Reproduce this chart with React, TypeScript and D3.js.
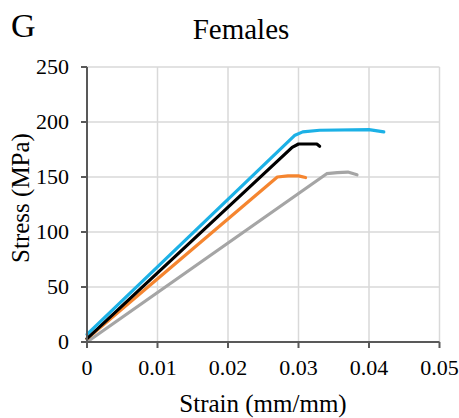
import React, { useEffect, useRef } from 'react'
import * as d3 from 'd3'

// strain (mm/mm), stress (MPa)
const blueStrain = [0, 0.0295, 0.0306, 0.033, 0.04, 0.0421]
const blueStress = [7, 188, 191, 192.5, 193, 191]
const blackStrain = [0, 0.0291, 0.03, 0.0326, 0.033]
const blackStress = [3, 177, 180, 180, 178]
const orangeStrain = [0, 0.027, 0.0285, 0.03, 0.031]
const orangeStress = [3, 150, 151, 151, 149.5]
const grayStrain = [0, 0.034, 0.0355, 0.037, 0.0383]
const grayStress = [0, 153, 154, 154.5, 152]

const xTicks = [0, 0.01, 0.02, 0.03, 0.04, 0.05]
const yTicks = [0, 50, 100, 150, 200, 250]

const series = [
  { color: '#A5A5A5', xs: grayStrain, ys: grayStress },
  { color: '#F5852F', xs: orangeStrain, ys: orangeStress },
  { color: '#000000', xs: blackStrain, ys: blackStress },
  { color: '#1CB1E6', xs: blueStrain, ys: blueStress }
]

export default function App() {
  const ref = useRef<SVGSVGElement>(null)

  useEffect(() => {
    const font = '"Liberation Serif", "Times New Roman", serif'
    const svg = d3.select(ref.current)
    svg.selectAll('*').remove()

    const x = d3.scaleLinear().domain([0, 0.05]).range([87, 439.5])
    const y = d3.scaleLinear().domain([0, 250]).range([342, 67])

    // grid
    svg
      .selectAll('line.vg')
      .data(xTicks.slice(1))
      .enter()
      .append('line')
      .attr('x1', d => x(d))
      .attr('x2', d => x(d))
      .attr('y1', y(0))
      .attr('y2', y(250))
      .attr('stroke', '#D9D9D9')
      .attr('stroke-width', 1.5)
    svg
      .selectAll('line.hg')
      .data(yTicks.slice(1))
      .enter()
      .append('line')
      .attr('x1', x(0))
      .attr('x2', x(0.05))
      .attr('y1', d => y(d))
      .attr('y2', d => y(d))
      .attr('stroke', '#D9D9D9')
      .attr('stroke-width', 1.5)

    // data lines
    const line = d3
      .line<[number, number]>()
      .x(d => x(d[0]))
      .y(d => y(d[1]))
    series.forEach(s => {
      const pts = s.xs.map((v, i) => [v, s.ys[i]] as [number, number])
      svg
        .append('path')
        .attr('d', line(pts))
        .attr('fill', 'none')
        .attr('stroke', s.color)
        .attr('stroke-width', 3.2)
        .attr('stroke-linecap', 'round')
        .attr('stroke-linejoin', 'round')
    })

    // axes
    const axisColor = '#595959'
    svg
      .append('line')
      .attr('x1', x(0))
      .attr('x2', x(0))
      .attr('y1', y(0) + 0.5)
      .attr('y2', y(250))
      .attr('stroke', axisColor)
      .attr('stroke-width', 2)
    svg
      .append('line')
      .attr('x1', x(0))
      .attr('x2', x(0.05))
      .attr('y1', y(0))
      .attr('y2', y(0))
      .attr('stroke', axisColor)
      .attr('stroke-width', 2)

    svg
      .selectAll('line.yt')
      .data(yTicks)
      .enter()
      .append('line')
      .attr('x1', x(0) - 6)
      .attr('x2', x(0))
      .attr('y1', d => y(d))
      .attr('y2', d => y(d))
      .attr('stroke', axisColor)
      .attr('stroke-width', 2)
    svg
      .selectAll('line.xt')
      .data(xTicks)
      .enter()
      .append('line')
      .attr('x1', d => x(d))
      .attr('x2', d => x(d))
      .attr('y1', y(0))
      .attr('y2', y(0) + 6)
      .attr('stroke', axisColor)
      .attr('stroke-width', 2)

    // tick labels
    svg
      .selectAll('text.yl')
      .data(yTicks)
      .enter()
      .append('text')
      .text(d => `${d}`)
      .attr('x', x(0) - 18)
      .attr('y', d => y(d) + 7)
      .attr('text-anchor', 'end')
      .attr('font-family', font)
      .attr('font-size', '22px')
      .attr('fill', '#000')
    svg
      .selectAll('text.xl')
      .data(xTicks)
      .enter()
      .append('text')
      .text(d => (d === 0 ? '0' : d3.format('.2f')(d)))
      .attr('x', d => x(d))
      .attr('y', y(0) + 33)
      .attr('text-anchor', 'middle')
      .attr('font-family', font)
      .attr('font-size', '22px')
      .attr('fill', '#000')

    // titles
    svg
      .append('text')
      .text('G')
      .attr('x', 11)
      .attr('y', 37)
      .attr('font-family', font)
      .attr('font-size', '34px')
    svg
      .append('text')
      .text('Females')
      .attr('x', 241)
      .attr('y', 39)
      .attr('text-anchor', 'middle')
      .attr('font-family', font)
      .attr('font-size', '29px')
    svg
      .append('text')
      .text('Strain (mm/mm)')
      .attr('x', 263)
      .attr('y', 412)
      .attr('text-anchor', 'middle')
      .attr('font-family', font)
      .attr('font-size', '25px')
    svg
      .append('text')
      .text('Stress (MPa)')
      .attr('transform', 'translate(29, 198) rotate(-90)')
      .attr('text-anchor', 'middle')
      .attr('font-family', font)
      .attr('font-size', '25px')
  }, [])

  return (
    <svg
      ref={ref}
      width={459}
      height={418}
      style={{ position: 'absolute', left: 0, top: 0, background: '#fff' }}
    />
  )
}
